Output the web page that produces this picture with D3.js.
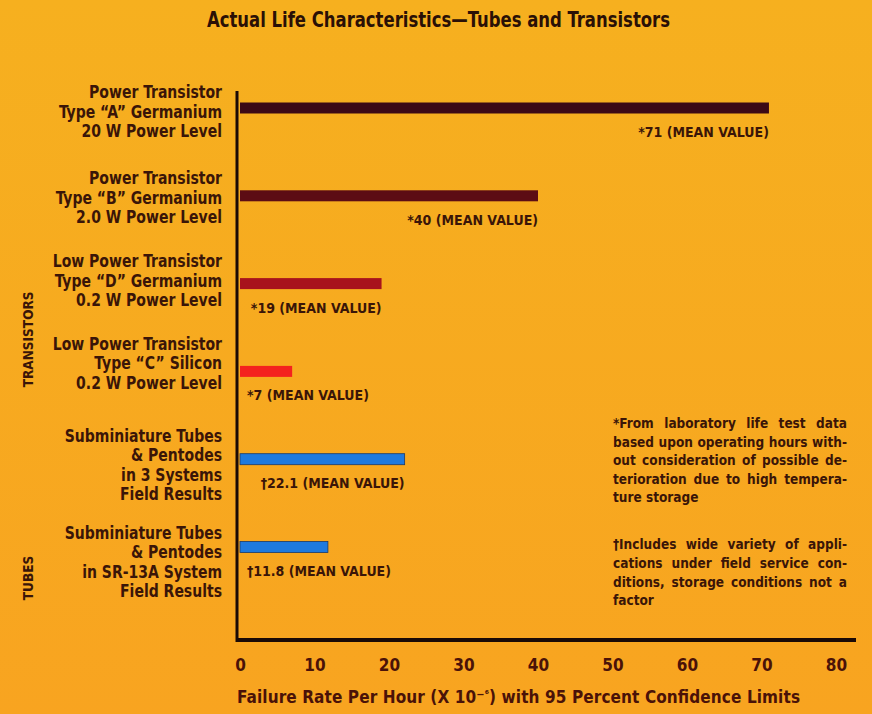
<!DOCTYPE html>
<html>
<head>
<meta charset="utf-8">
<script src="https://cdn.jsdelivr.net/npm/d3@7"></script>
<style>
  html, body { margin: 0; padding: 0; background: #f7a91f; }
  svg { display: block; }
  text { font-family: "Liberation Sans Narrow", "DejaVu Sans Condensed", "Roboto Condensed", sans-serif; font-weight: bold; fill: #3a1508; }
</style>
</head>
<body>
<svg id="chart" width="872" height="714"></svg>
<script>
// Device categories, top to bottom
const categories = [
  ["Power Transistor", "Type \u201CA\u201D Germanium", "20 W Power Level"],
  ["Power Transistor", "Type \u201CB\u201D Germanium", "2.0 W Power Level"],
  ["Low Power Transistor", "Type \u201CD\u201D Germanium", "0.2 W Power Level"],
  ["Low Power Transistor", "Type \u201CC\u201D Silicon", "0.2 W Power Level"],
  ["Subminiature Tubes", "& Pentodes", "in 3 Systems", "Field Results"],
  ["Subminiature Tubes", "& Pentodes", "in SR-13A System", "Field Results"]
];
// Mean failure rate per hour (x 10^-6)
const meanValues = [71, 40, 19, 7, 22.1, 11.8];
const valueText = ["71", "40", "19", "7", "22.1", "11.8"];
// Footnote markers: * laboratory data, † field data
const markers = ["*", "*", "*", "*", "\u2020", "\u2020"];
const barColors = ["#3c0a16", "#5c0c14", "#a8121c", "#f4221e", "#1f7ade", "#1f7ade"];
const xTicks = [0, 10, 20, 30, 40, 50, 60, 70, 80];
const groups = ["TRANSISTORS", "TUBES"];
const footnoteStar = [
  "*From laboratory life test data",
  "based upon operating hours with-",
  "out consideration of possible de-",
  "terioration due to high tempera-",
  "ture storage"
];
const footnoteDagger = [
  "\u2020Includes wide variety of appli-",
  "cations under field service con-",
  "ditions, storage conditions not a",
  "factor"
];

const svg = d3.select("#chart");

// yellow-to-orange paper tone
const defs = svg.append("defs");
const grad = defs.append("linearGradient").attr("id", "paper").attr("x1", 0).attr("y1", 0).attr("x2", 0).attr("y2", 1);
grad.append("stop").attr("offset", "0%").attr("stop-color", "#f6b01f");
grad.append("stop").attr("offset", "100%").attr("stop-color", "#f8a420");
svg.append("rect").attr("width", 872).attr("height", 714).attr("fill", "url(#paper)");

const x = d3.scaleLinear().domain([0, 80]).range([240, 836]);
const idx = categories.map((d, i) => i);
const y = d3.scalePoint().domain(idx).range([108, 547]);
const barH = 11;

// title (condensed face)
svg.append("text")
  .attr("x", 207).attr("y", 27)
  .style("font-size", "21px")
  .style("fill", "#2a1006")
  .attr("textLength", 463)
  .attr("lengthAdjust", "spacingAndGlyphs")
  .text("Actual Life Characteristics\u2014Tubes and Transistors");

// bars
svg.append("g").selectAll("rect")
  .data(idx)
  .join("rect")
  .attr("x", x(0))
  .attr("y", i => y(i) - barH / 2)
  .attr("width", i => x(meanValues[i]) - x(0))
  .attr("height", barH)
  .attr("fill", i => barColors[i])
  .attr("stroke", i => i >= 4 ? "#1a3a6a" : "none")
  .attr("stroke-width", 0.8);

// mean value labels below each bar, right-aligned to the bar end
const vl = svg.append("g").selectAll("text")
  .data(idx)
  .join("text")
  .attr("y", i => y(i) + 29)
  .style("font-size", "14px")
  .text(i => `${markers[i]}${valueText[i]} (MEAN VALUE)`);
vl.each(function(i) {
  const w = this.getComputedTextLength();
  const xe = x(meanValues[i]);
  d3.select(this).attr("x", Math.max(247, xe - w));
});

// category labels, horizontally condensed
const labelOffsets = [4, 2, -3, -8, 6, 15];
categories.forEach((lines, i) => {
  const lh = 19.5;
  const top = y(i) + labelOffsets[i] - (lines.length - 1) * lh / 2 + 6;
  const g = svg.append("g").attr("transform", "translate(222,0) scale(0.89,1)");
  const t = g.append("text")
    .attr("text-anchor", "end")
    .style("font-size", "17.5px");
  lines.forEach((s, k) => {
    t.append("tspan").attr("x", 0).attr("y", top + k * lh).text(s);
  });
});

// group labels, rotated
const groupCenters = [y(3) - 32, y(5) + 31];
groups.forEach((name, k) => {
  svg.append("text")
    .attr("transform", `translate(33,${groupCenters[k]}) rotate(-90)`)
    .attr("text-anchor", "middle")
    .style("font-size", "13.5px")
    .text(name);
});

// axes lines
svg.append("line")
  .attr("x1", 237).attr("x2", 237).attr("y1", 91).attr("y2", 642)
  .attr("stroke", "#1a0a06").attr("stroke-width", 3);
svg.append("line")
  .attr("x1", 236).attr("x2", 856).attr("y1", 640).attr("y2", 640)
  .attr("stroke", "#1a0a06").attr("stroke-width", 4);

// x tick labels
const xAxis = d3.axisBottom(x).tickValues(xTicks).tickSize(0).tickPadding(0);
const ax = svg.append("g").attr("transform", "translate(0,659)").call(xAxis);
ax.select(".domain").remove();
ax.selectAll("text")
  .attr("dy", "0.71em")
  .style("font-size", "17px")
  .style("fill", "#4a1208")
  .style("font-family", null);

// x axis title
const xt = svg.append("text")
  .attr("x", 237).attr("y", 703)
  .style("font-size", "17px")
  .style("fill", "#4a1208");
xt.append("tspan").text("Failure Rate Per Hour (X 10");
xt.append("tspan").attr("dy", -5).style("font-size", "11px").text("\u2212\u2076");
xt.append("tspan").attr("dy", 5).text(") with 95 Percent Confidence Limits");
xt.attr("textLength", 563).attr("lengthAdjust", "spacing");

// justified footnotes
function footnote(lines, x0, x1, y0, lh) {
  lines.forEach((s, k) => {
    const t = svg.append("text")
      .attr("x", x0).attr("y", y0 + k * lh)
      .style("font-size", "13.5px")
      .text(s);
    if (k < lines.length - 1) {
      const w = t.node().getComputedTextLength();
      const gaps = s.split(" ").length - 1;
      if (gaps > 0) t.style("word-spacing", ((x1 - x0 - w) / gaps) + "px");
    }
  });
}
footnote(footnoteStar, 613, 847, 428, 18.5);
footnote(footnoteDagger, 613, 847, 549, 18.8);
</script>
</body>
</html>
